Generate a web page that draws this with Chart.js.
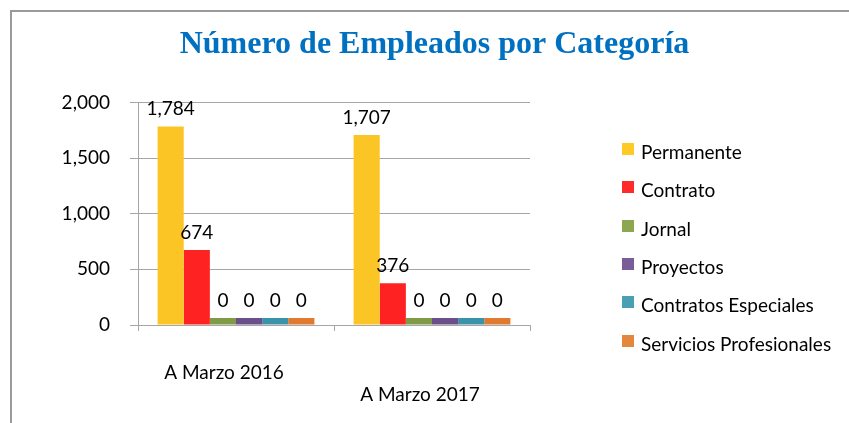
<!DOCTYPE html>
<html><head><meta charset="utf-8">
<script src="https://cdn.jsdelivr.net/npm/chart.js@4.4.1/dist/chart.umd.min.js"></script>
<style>
html,body{margin:0;padding:0;background:#fff;}
#wrap{width:849px;height:423px;position:relative;overflow:hidden;}
#legend{position:absolute;left:622px;top:140px;font-family:Lato,"Open Sans",sans-serif;font-size:19px;color:#000;}
#legend .it{position:absolute;left:0;white-space:nowrap;height:24px;line-height:24px;}
#legend .sw{position:absolute;left:0;top:3px;width:12px;height:12px;}
#legend .tx{position:absolute;left:19px;top:0;}
</style>
</head><body><div id="wrap"><canvas id="c" width="849" height="423"></canvas><div id="legend"></div></div>
<script>
const categories = ['A Marzo 2016', 'A Marzo 2017'];
const seriesNames = ['Permanente', 'Contrato', 'Jornal', 'Proyectos', 'Contratos Especiales', 'Servicios Profesionales'];
const permanente = [1784, 1707];
const contrato = [674, 376];
const jornal = [0, 0];
const proyectos = [0, 0];
const contratosEspeciales = [0, 0];
const serviciosProfesionales = [0, 0];
const yTickValues = [0, 500, 1000, 1500, 2000];

const seriesValues = [permanente, contrato, jornal, proyectos, contratosEspeciales, serviciosProfesionales];
const seriesColors = ['#FBC525', '#FF2222', '#7F9B45', '#6A4F8A', '#3A93A8', '#E07A2E'];
const legendColors = ['#FFC926', '#FF2B2B', '#8DA650', '#7A5C98', '#4A9FB5', '#E3873D'];
const FONT = 'Lato, "Open Sans", sans-serif';

const xLabels = categories.map((c, i) => i % 2 === 1 ? ['', c] : c);

// HTML legend
const legendEl = document.getElementById('legend');
seriesNames.forEach((n, i) => {
  const it = document.createElement('div');
  it.className = 'it';
  it.style.top = (i * 38.3) + 'px';
  it.innerHTML = '<span class="sw" style="background:' + legendColors[i] + '"></span><span class="tx">' + n + '</span>';
  legendEl.appendChild(it);
});

const borderPlugin = {
  id: 'frame',
  beforeDraw(chart) {
    const ctx = chart.ctx;
    ctx.save();
    ctx.fillStyle = '#fff';
    ctx.fillRect(0, 0, chart.width, chart.height);
    ctx.strokeStyle = '#9a9a9a';
    ctx.lineWidth = 2;
    ctx.beginPath();
    ctx.moveTo(11, chart.height + 2);
    ctx.lineTo(11, 11);
    ctx.lineTo(chart.width + 2, 11);
    ctx.stroke();
    ctx.restore();
  }
};

const valueLabels = {
  id: 'valueLabels',
  afterDatasetsDraw(chart) {
    const ctx = chart.ctx;
    ctx.save();
    ctx.font = '19px ' + FONT;
    ctx.fillStyle = '#000';
    ctx.textAlign = 'center';
    ctx.textBaseline = 'bottom';
    chart.data.datasets.forEach((ds, di) => {
      const meta = chart.getDatasetMeta(di);
      meta.data.forEach((bar, i) => {
        const v = ds.data[i];
        ctx.fillText(v.toLocaleString('en-US'), bar.x, bar.y - 8);
      });
    });
    ctx.restore();
  }
};

new Chart(document.getElementById('c'), {
  type: 'bar',
  data: {
    labels: xLabels,
    datasets: seriesNames.map((n, i) => ({
      label: n,
      data: seriesValues[i],
      backgroundColor: seriesColors[i],
      borderWidth: 0,
      minBarLength: 7,
      categoryPercentage: 0.8,
      barPercentage: 1.0
    }))
  },
  options: {
    responsive: false,
    animation: false,
    devicePixelRatio: 1,
    layout: { padding: { left: 20, right: 0, top: 0, bottom: 0 } },
    plugins: {
      title: {
        display: true,
        text: 'Número de Empleados por Categoría',
        color: '#0070C0',
        font: { family: '"Liberation Serif", serif', size: 32, weight: 'bold' },
        padding: { top: 26, bottom: 38 }
      },
      legend: { display: false },
      tooltip: { enabled: false }
    },
    scales: {
      x: {
        grid: { display: true, offset: true, drawOnChartArea: false, tickLength: 6, color: '#a6a6a6' },
        border: { display: true, color: '#a6a6a6' },
        ticks: { color: '#000', font: { family: FONT, size: 19, lineHeight: 1.2 }, padding: 30, maxRotation: 0, labelOffset: -12 },
        afterFit(scale) { scale.height = 98; }
      },
      y: {
        min: 0, max: 2000,
        afterBuildTicks(scale) { scale.ticks = yTickValues.map(v => ({ value: v })); },
        grid: { color: '#a6a6a6', tickLength: 8 },
        border: { display: true, color: '#a6a6a6' },
        ticks: {
          color: '#000', font: { family: FONT, size: 19 }, padding: 20,
          callback: v => Number(v).toLocaleString('en-US')
        },
        afterFit(scale) { scale.width = 118; }
      },
      y2: {
        position: 'right',
        display: true,
        grid: { display: false },
        border: { display: false },
        ticks: { display: false },
        afterFit(scale) { scale.width = 319; }
      }
    }
  },
  plugins: [borderPlugin, valueLabels]
});
</script>
</body></html>
